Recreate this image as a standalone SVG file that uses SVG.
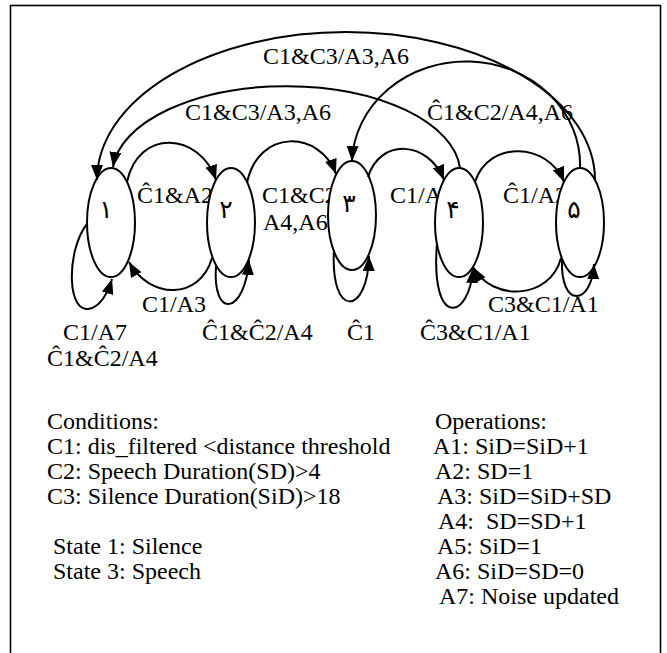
<svg xmlns="http://www.w3.org/2000/svg" width="667" height="653" viewBox="0 0 667 653">
<style>
.t{font-family:'Liberation Serif','Times New Roman',serif;font-size:24px;fill:#000}
.num{font-family:'DejaVu Sans',sans-serif;font-size:25px;text-anchor:middle;fill:#000}
.st{fill:#fff;stroke:#000;stroke-width:2}
.c{fill:none;stroke:#000;stroke-width:2;marker-end:url(#ah)}
</style>
<defs>
<marker id="ah" markerUnits="userSpaceOnUse" viewBox="0 0 15 12" refX="15" refY="6" markerWidth="15" markerHeight="12" orient="auto">
<path d="M0,0 L15,6 L0,12 z" fill="#000"/>
</marker>
</defs>
<rect x="10.5" y="5.5" width="650" height="700" fill="#fff" stroke="#000" stroke-width="1.6"/>
<g id="labels" class="t" font-family="Liberation Serif, Times New Roman, serif" font-size="24">
<text x="263" y="64">C1&amp;C3/A3,A6</text>
<text x="185" y="120">C1&amp;C3/A3,A6</text>
<text x="427" y="120">Ĉ1&amp;C2/A4,A6</text>
<text x="137" y="203">Ĉ1&amp;A2</text>
<text x="262" y="203">C1&amp;C2</text>
<text x="263" y="230">A4,A6</text>
<text x="390" y="203">C1/A</text>
<text x="503" y="203">Ĉ1/A2</text>
<text x="142" y="312">C1/A3</text>
<text x="488" y="312">C3&amp;C1/A1</text>
<text x="63" y="340">C1/A7</text>
<text x="202" y="340">Ĉ1&amp;Ĉ2/A4</text>
<text x="347" y="340">Ĉ1</text>
<text x="420" y="340">Ĉ3&amp;C1/A1</text>
<text x="47" y="366">Ĉ1&amp;Ĉ2/A4</text>
</g>
<g id="state1"><ellipse class="st" cx="111" cy="222.5" rx="24" ry="54.5"/><text class="num" x="106" y="218">۱</text></g>
<g id="state2"><ellipse class="st" cx="231" cy="222.5" rx="24" ry="54.5"/><text class="num" x="226" y="218">۲</text></g>
<g id="state3"><ellipse class="st" cx="352" cy="215.5" rx="24" ry="54.5"/><text class="num" x="349" y="212">۳</text></g>
<g id="state4"><ellipse class="st" cx="459" cy="222.5" rx="24" ry="54.5"/><text class="num" x="453" y="218">۴</text></g>
<g id="state5"><ellipse class="st" cx="580" cy="222.5" rx="24" ry="54.5"/><text class="num" x="574" y="218">۵</text></g>
<g id="connectors">
<path class="c" d="M595,180 A249 148 0 0 0 97,180"/>
<path class="c" d="M460,168 A174 88 0 0 0 113,167"/>
<path class="c" d="M580,168 A114 103 0 0 0 352,161"/>
<path class="c" d="M127,182 C138,128 200,132 216,180"/>
<path class="c" d="M247,183 C258,128 320,130 336,174"/>
<path class="c" d="M368,177 C380,138 428,140 444,180"/>
<path class="c" d="M475,182 C488,140 548,142 564,182"/>
<path class="c" d="M212,258 C200,300 150,300 129,262"/>
<path class="c" d="M561,258 C550,300 492,302 473,267"/>
<path class="c" d="M87,224 C66,250 66,318 92,308 C102,304 108,292 112,279"/>
<path class="c" d="M216,266 C212,320 245,315 249,260"/>
<path class="c" d="M334,250 C330,320 368,315 369,256"/>
<path class="c" d="M437,243 C430,330 470,320 473,268"/>
<path class="c" d="M562,259 C560,310 592,305 594,264"/>
</g>
<g id="legend" class="t" font-family="Liberation Serif, Times New Roman, serif" font-size="24">
<text x="47" y="429">Conditions:</text>
<text x="47" y="454">C1: dis_filtered &lt;distance threshold</text>
<text x="47" y="479">C2: Speech Duration(SD)&gt;4</text>
<text x="47" y="504">C3: Silence Duration(SiD)&gt;18</text>
<text x="53" y="554">State 1: Silence</text>
<text x="53" y="579">State 3: Speech</text>
<text x="435" y="429">Operations:</text>
<text x="433" y="454">A1: SiD=SiD+1</text>
<text x="435" y="479">A2: SD=1</text>
<text x="437" y="504">A3: SiD=SiD+SD</text>
<text x="438" y="529" xml:space="preserve">A4:  SD=SD+1</text>
<text x="437" y="554">A5: SiD=1</text>
<text x="435" y="579">A6: SiD=SD=0</text>
<text x="439" y="604">A7: Noise updated</text>
</g>
</svg>
